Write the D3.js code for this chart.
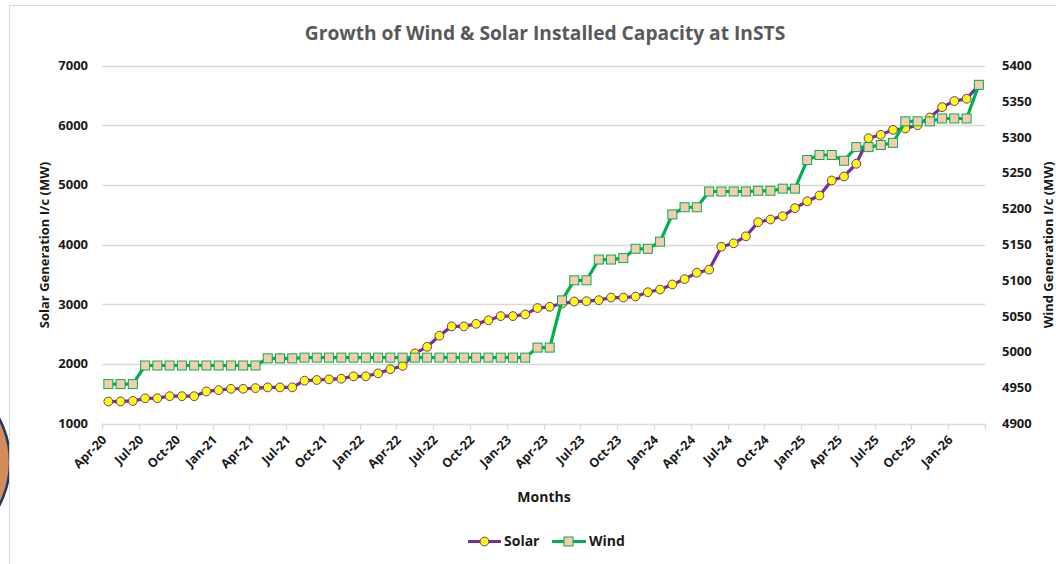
<!DOCTYPE html>
<html>
<head>
<meta charset="utf-8">
<script src="https://cdn.jsdelivr.net/npm/d3@7"></script>
<style>
  body { margin: 0; background: #fff; }
  svg text { font-family: 'Open Sans', 'DejaVu Sans', sans-serif; font-weight: 700; }
</style>
</head>
<body>
<svg id="chart" width="1056" height="564"></svg>
<script>
// Monthly categories, Apr-20 .. Mar-26
const months = [
  'Apr-20', 'May-20', 'Jun-20', 'Jul-20', 'Aug-20', 'Sep-20', 'Oct-20', 'Nov-20', 'Dec-20',
  'Jan-21', 'Feb-21', 'Mar-21', 'Apr-21', 'May-21', 'Jun-21', 'Jul-21', 'Aug-21', 'Sep-21',
  'Oct-21', 'Nov-21', 'Dec-21', 'Jan-22', 'Feb-22', 'Mar-22', 'Apr-22', 'May-22', 'Jun-22',
  'Jul-22', 'Aug-22', 'Sep-22', 'Oct-22', 'Nov-22', 'Dec-22', 'Jan-23', 'Feb-23', 'Mar-23',
  'Apr-23', 'May-23', 'Jun-23', 'Jul-23', 'Aug-23', 'Sep-23', 'Oct-23', 'Nov-23', 'Dec-23',
  'Jan-24', 'Feb-24', 'Mar-24', 'Apr-24', 'May-24', 'Jun-24', 'Jul-24', 'Aug-24', 'Sep-24',
  'Oct-24', 'Nov-24', 'Dec-24', 'Jan-25', 'Feb-25', 'Mar-25', 'Apr-25', 'May-25', 'Jun-25',
  'Jul-25', 'Aug-25', 'Sep-25', 'Oct-25', 'Nov-25', 'Dec-25', 'Jan-26', 'Feb-26', 'Mar-26'
];

// Solar installed capacity (MW), left axis
const solarMW = [
  1368, 1370, 1378, 1422, 1424, 1458, 1458, 1458, 1537,
  1559, 1582, 1582, 1593, 1605, 1605, 1605, 1718, 1729,
  1740, 1751, 1791, 1791, 1840, 1910, 1965, 2175, 2285,
  2470, 2628, 2628, 2670, 2730, 2800, 2800, 2828, 2935,
  2956, 3010, 3045, 3050, 3067, 3111, 3111, 3128, 3200,
  3245, 3330, 3420, 3527, 3578, 3963, 4020, 4137, 4374,
  4419, 4475, 4609, 4724, 4821, 5073, 5140, 5353, 5782,
  5839, 5922, 5944, 6000, 6129, 6302, 6404, 6442, 6670
];

// Wind installed capacity (MW), right axis
const windMW = [
  4955, 4955, 4955, 4981, 4981, 4981, 4981, 4981, 4981,
  4981, 4981, 4981, 4981, 4991, 4991, 4991, 4992, 4992,
  4992, 4992, 4992, 4992, 4992, 4992, 4992, 4992, 4992,
  4992, 4992, 4992, 4992, 4992, 4992, 4992, 4992, 5006,
  5006, 5072, 5100, 5100, 5129, 5129, 5131, 5144, 5144,
  5154, 5192, 5202, 5202, 5224, 5224, 5224, 5224, 5225,
  5225, 5228, 5228, 5268, 5275, 5275, 5267, 5286, 5286,
  5289, 5292, 5322, 5322, 5322, 5326, 5326, 5326, 5373
];

const leftTicks = [1000, 2000, 3000, 4000, 5000, 6000, 7000];
const rightTicks = [4900, 4950, 5000, 5050, 5100, 5150, 5200, 5250, 5300, 5350, 5400];
const labelMonths = months.filter((d, i) => i % 3 === 0);

const colors = {
  solar: '#7030a0',
  solarFill: '#ffff00',
  wind: '#00b050',
  windFill: '#f8cbad',
  grid: '#d9d9d9',
  text: '#1a1a1a',
  title: '#595959'
};

const svg = d3.select('#chart');

// Slide decoration peeking in at the left edge
svg.append('circle')
  .attr('cx', -83)
  .attr('cy', 462)
  .attr('r', 93)
  .style('fill', '#d68c5a')
  .style('stroke', '#1f3864')
  .style('stroke-width', 2.5);

// Chart border
svg.append('rect')
  .attr('x', 9.5)
  .attr('y', 5.5)
  .attr('width', 1100)
  .attr('height', 600)
  .style('fill', '#fff')
  .style('stroke', '#d9d9d9');

const plot = { left: 102.2, right: 985, top: 65.5, bottom: 423.5 };

let xScale = d3.scaleBand()
  .domain(months)
  .range([plot.left, plot.right]);
const bw = xScale.bandwidth();
const cx = d => xScale(d) + bw / 2;

let yLeft = d3.scaleLinear()
  .domain([1000, 7000])
  .range([plot.bottom, plot.top]);

let yRight = d3.scaleLinear()
  .domain([4900, 5400])
  .range([plot.bottom, plot.top]);

// Gridlines
svg.append('g')
  .attr('class', 'grid')
  .selectAll('line')
  .data(leftTicks)
  .join('line')
  .attr('x1', plot.left)
  .attr('x2', plot.right)
  .attr('y1', d => Math.round(yLeft(d)) + 0.5)
  .attr('y2', d => Math.round(yLeft(d)) + 0.5)
  .style('stroke', colors.grid)
  .style('stroke-width', 1.3);

// Left tick labels
svg.append('g')
  .selectAll('text')
  .data(leftTicks)
  .join('text')
  .attr('x', 88)
  .attr('y', d => yLeft(d))
  .attr('dy', '0.35em')
  .attr('text-anchor', 'end')
  .style('font-size', '13px')
  .style('fill', colors.text)
  .text(d => d);

// Right tick labels
svg.append('g')
  .selectAll('text')
  .data(rightTicks)
  .join('text')
  .attr('x', 1002)
  .attr('y', d => yRight(d))
  .attr('dy', '0.35em')
  .attr('text-anchor', 'start')
  .style('font-size', '13px')
  .style('fill', colors.text)
  .text(d => d);

// X tick marks between categories, every 3 months
const tickXs = labelMonths.map(d => xScale(d)).concat([plot.right]);
svg.append('g')
  .selectAll('line')
  .data(tickXs)
  .join('line')
  .attr('x1', d => Math.round(d) + 0.5)
  .attr('x2', d => Math.round(d) + 0.5)
  .attr('y1', plot.bottom)
  .attr('y2', plot.bottom + 6)
  .style('stroke', colors.grid)
  .style('stroke-width', 1.3);

// X tick labels, rotated
svg.append('g')
  .selectAll('text')
  .data(labelMonths)
  .join('text')
  .attr('transform', d => `translate(${cx(d) - 4}, ${plot.bottom + 14}) rotate(-45)`)
  .attr('text-anchor', 'end')
  .attr('dy', '0.35em')
  .style('font-size', '12.5px')
  .style('fill', colors.text)
  .text(d => d);

// Lines and markers
const rows = months.map((m, i) => ({ month: m, solar: solarMW[i], wind: windMW[i] }));

const solarLine = d3.line()
  .x(d => cx(d.month))
  .y(d => yLeft(d.solar));

const windLine = d3.line()
  .x(d => cx(d.month))
  .y(d => yRight(d.wind));

svg.append('path')
  .datum(rows)
  .attr('d', solarLine)
  .style('fill', 'none')
  .style('stroke', colors.solar)
  .style('stroke-width', 3.2)
  .style('stroke-linejoin', 'round');

svg.append('g')
  .selectAll('circle')
  .data(rows)
  .join('circle')
  .attr('cx', d => cx(d.month))
  .attr('cy', d => yLeft(d.solar))
  .attr('r', 4.4)
  .style('fill', colors.solarFill)
  .style('stroke', colors.solar)
  .style('stroke-width', 1);

svg.append('path')
  .datum(rows)
  .attr('d', windLine)
  .style('fill', 'none')
  .style('stroke', colors.wind)
  .style('stroke-width', 3.2)
  .style('stroke-linejoin', 'round');

const sq = 9;
svg.append('g')
  .selectAll('rect')
  .data(rows)
  .join('rect')
  .attr('x', d => cx(d.month) - sq / 2)
  .attr('y', d => yRight(d.wind) - sq / 2)
  .attr('width', sq)
  .attr('height', sq)
  .style('fill', colors.windFill)
  .style('stroke', colors.wind)
  .style('stroke-width', 1);

// Title, fitted to the reference width
const title = svg.append('text')
  .attr('x', 545)
  .attr('y', 33)
  .attr('dy', '0.35em')
  .attr('text-anchor', 'middle')
  .style('font-size', '20px')
  .style('fill', colors.title)
  .text('Growth of Wind & Solar Installed Capacity at InSTS');
const tw = title.node().getComputedTextLength();
title.style('font-size', `${20 * 481 / tw}px`);

// Axis titles
svg.append('text')
  .attr('transform', 'translate(44, 245) rotate(-90)')
  .attr('text-anchor', 'middle')
  .attr('dy', '0.35em')
  .style('font-size', '13px')
  .style('fill', colors.text)
  .text('Solar Generation I/c (MW)');

svg.append('text')
  .attr('transform', 'translate(1048, 245) rotate(-90)')
  .attr('text-anchor', 'middle')
  .attr('dy', '0.35em')
  .style('font-size', '13px')
  .style('fill', colors.text)
  .text('Wind Generation I/c (MW)');

svg.append('text')
  .attr('x', 544)
  .attr('y', 497)
  .attr('dy', '0.35em')
  .attr('text-anchor', 'middle')
  .style('font-size', '14px')
  .style('fill', colors.text)
  .text('Months');

// Legend
const legend = svg.append('g').attr('transform', 'translate(0, 541.5)');

legend.append('line')
  .attr('x1', 468).attr('x2', 501)
  .style('stroke', colors.solar).style('stroke-width', 3.2);
legend.append('circle')
  .attr('cx', 484.5).attr('r', 4.4)
  .style('fill', colors.solarFill).style('stroke', colors.solar);
legend.append('text')
  .attr('x', 504).attr('dy', '0.35em')
  .style('font-size', '14px').style('fill', colors.text)
  .text('Solar');

legend.append('line')
  .attr('x1', 552).attr('x2', 586)
  .style('stroke', colors.wind).style('stroke-width', 3.2);
legend.append('rect')
  .attr('x', 568.5 - sq / 2).attr('y', -sq / 2)
  .attr('width', sq).attr('height', sq)
  .style('fill', colors.windFill).style('stroke', colors.wind);
legend.append('text')
  .attr('x', 589).attr('dy', '0.35em')
  .style('font-size', '14px').style('fill', colors.text)
  .text('Wind');
</script>
</body>
</html>
